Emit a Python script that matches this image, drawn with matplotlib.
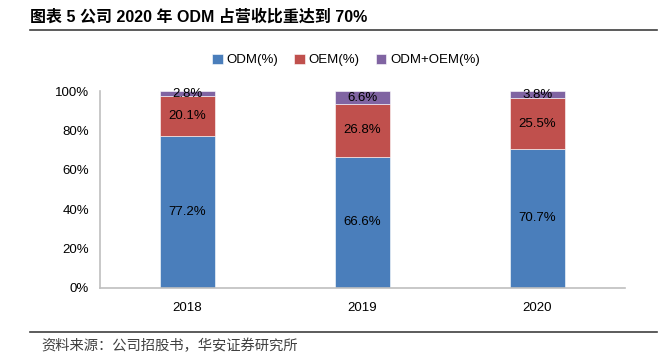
import matplotlib
matplotlib.use("Agg")
import matplotlib.pyplot as plt
import numpy as np

plt.rcParams['font.family'] = ['Liberation Sans', 'Noto Sans CJK SC', 'DejaVu Sans']

years = ["2018", "2019", "2020"]
odm = [77.2, 66.6, 70.7]
oem = [20.1, 26.8, 25.5]
both = [2.8, 6.6, 3.8]
yticks = [0, 20, 40, 60, 80, 100]

C_ODM = "#4A7EBB"
C_OEM = "#C0504D"
C_BOTH = "#8064A2"

fig = plt.figure(figsize=(6.71, 3.62), dpi=100)
ax = fig.add_axes([100 / 671, 1 - 288 / 362, 525 / 671, 197 / 362])

x = np.arange(len(years))
w = 0.314
ax.bar(x, odm, w, color=C_ODM, label="ODM(%)", edgecolor="white", linewidth=0.4)
ax.bar(x, oem, w, bottom=odm, color=C_OEM, label="OEM(%)", edgecolor="white", linewidth=0.4)
bottom3 = [a + b for a, b in zip(odm, oem)]
ax.bar(x, both, w, bottom=bottom3, color=C_BOTH, label="ODM+OEM(%)", edgecolor="white", linewidth=0.4)

for i in range(len(years)):
    ax.text(x[i], odm[i] / 2, f"{odm[i]}%", ha="center", va="center", fontsize=9.5)
    ax.text(x[i], odm[i] + oem[i] / 2, f"{oem[i]}%", ha="center", va="center", fontsize=9.5)
    ax.text(x[i], bottom3[i] + both[i] / 2, f"{both[i]}%", ha="center", va="center", fontsize=9.5)

ax.set_xlim(-0.5, 2.5)
ax.set_ylim(0, 100)
ax.set_xticks(x)
ax.set_xticklabels(years, fontsize=9.5)
ax.set_yticks(yticks)
ax.set_yticklabels([f"{v}%" for v in yticks], fontsize=9.5)
ax.tick_params(axis="both", length=0, pad=8)
ax.tick_params(axis="x", pad=10)
for s in ["top", "right"]:
    ax.spines[s].set_visible(False)
for s in ["left", "bottom"]:
    ax.spines[s].set_color("#BFBFBF")
    ax.spines[s].set_linewidth(1.2)

ax.legend(loc="center", bbox_to_anchor=(346 / 671, 1 - 60 / 362), bbox_transform=fig.transFigure,
          ncol=3, frameon=False, fontsize=9.5, handlelength=0.8, handleheight=0.8,
          handletextpad=0.3, columnspacing=1.2)

# title and rules
fig.text(30 / 671, 1 - 17 / 362, "图表 5 公司 2020 年 ODM 占营收比重达到 70%",
         fontsize=11.5, fontweight="bold", va="center", ha="left",
         family=['Liberation Sans', 'Noto Sans CJK SC'])
fig.add_artist(plt.Line2D([30 / 671, 657 / 671], [1 - 30 / 362] * 2, color="#404040", lw=1.2))
fig.add_artist(plt.Line2D([30 / 671, 657 / 671], [1 - 332 / 362] * 2, color="#404040", lw=1.2))
fig.text(41 / 671, 1 - 346 / 362, "资料来源：公司招股书，华安证券研究所",
         fontsize=10.3, va="center", ha="left", color="#404040", family=['Noto Sans CJK SC'])

fig.savefig("out.png", dpi=100)
